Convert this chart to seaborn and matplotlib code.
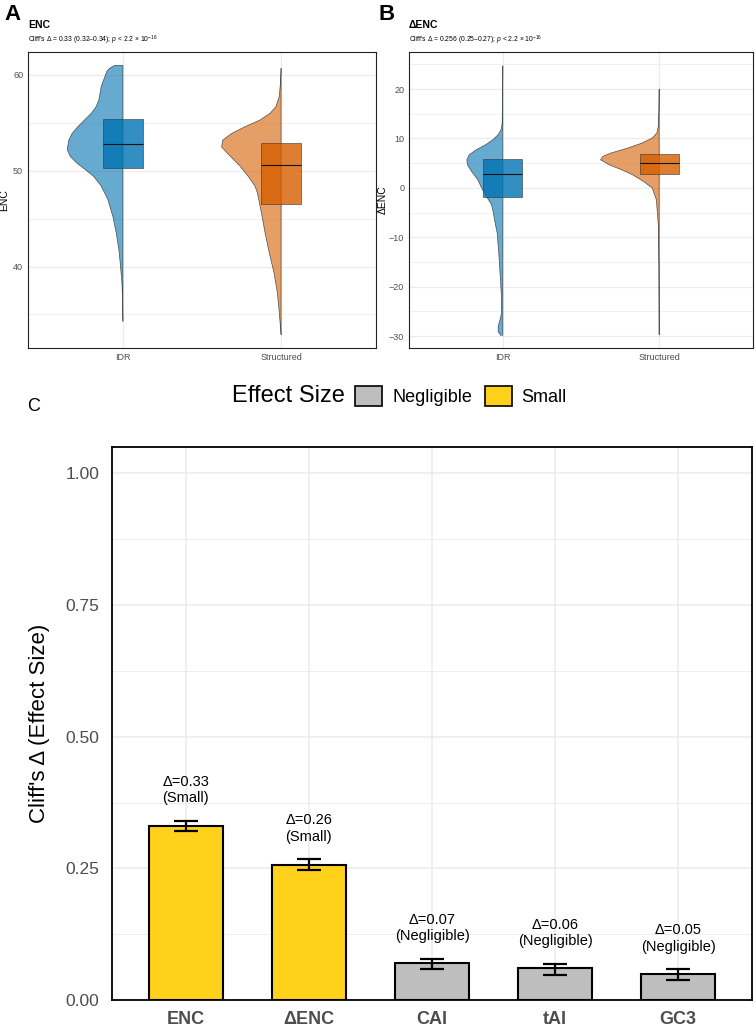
import numpy as np
import pandas as pd
import matplotlib.pyplot as plt
import seaborn as sns
from matplotlib.patches import Patch
from matplotlib.ticker import MultipleLocator, FormatStrFormatter

# ---------------- data ----------------
groups = ["IDR", "Structured"]

# panel A - ENC, half-violin outline (value, half width)
enc_idr_y = [34.3, 36.5, 38.3, 40.0, 41.7, 43.5, 45.2, 47.0, 48.4, 49.4, 50.1, 50.8, 51.5, 52.2,
             53.2, 53.9, 54.6, 55.3, 56.0, 56.7, 57.4, 58.8, 60.0, 60.4, 60.7, 61.0]
enc_idr_w = [0.0, 0.002, 0.006, 0.015, 0.025, 0.042, 0.063, 0.095, 0.137, 0.184, 0.236, 0.291, 0.333, 0.352,
             0.342, 0.321, 0.285, 0.243, 0.200, 0.169, 0.152, 0.137, 0.110, 0.101, 0.084, 0.053]
enc_str_y = [32.9, 35.1, 37.2, 39.3, 41.4, 43.5, 45.6, 47.0, 47.7, 48.4, 49.4, 50.5, 51.2, 51.9,
             52.5, 53.2, 53.9, 54.6, 55.3, 56.0, 56.7, 57.8, 59.2, 60.7]
enc_str_w = [0.0, 0.011, 0.023, 0.044, 0.074, 0.101, 0.124, 0.141, 0.150, 0.165, 0.207, 0.260, 0.302, 0.344,
             0.376, 0.369, 0.312, 0.228, 0.133, 0.070, 0.032, 0.011, 0.004, 0.0]
enc_q1 = [50.3, 46.5]
enc_med = [52.8, 50.6]
enc_q3 = [55.4, 52.9]

# panel B - delta ENC
denc_idr_y = [-29.9, -29.1, -28.0, -26.7, -25.3, -22.6, -18.6, -13.2, -9.15, -6.45, -4.76, -3.41, -2.06,
              -0.38, 1.65, 3.33, 4.68, 5.69, 6.71, 7.72, 8.73, 9.74, 10.76, 11.77, 13.1, 17.8, 24.7]
denc_idr_w = [0.012, 0.030, 0.030, 0.018, 0.008, 0.008, 0.015, 0.026, 0.036, 0.053, 0.062, 0.072, 0.098,
              0.130, 0.160, 0.200, 0.226, 0.230, 0.215, 0.170, 0.110, 0.064, 0.030, 0.011, 0.004, 0.002, 0.0]
denc_str_y = [-29.7, -15.9, -7.8, -2.4, 0.0, 1.3, 2.66, 3.67, 4.68, 5.69, 6.37, 7.04, 8.06, 9.07,
              10.08, 11.1, 12.4, 15.8, 20.0]
denc_str_w = [0.0, 0.002, 0.005, 0.018, 0.045, 0.10, 0.17, 0.24, 0.32, 0.375, 0.36, 0.31, 0.20, 0.11,
              0.045, 0.015, 0.006, 0.002, 0.0]
denc_q1 = [-1.9, 2.8]
denc_med = [2.8, 5.05]
denc_q3 = [5.9, 6.9]

# panel C - Cliff's delta
metrics = ["ENC", "ΔENC", "CAI", "tAI", "GC3"]
cliffs_delta = [0.33, 0.256, 0.07, 0.06, 0.05]
ci_low = [0.32, 0.247, 0.058, 0.047, 0.038]
ci_high = [0.34, 0.267, 0.078, 0.068, 0.058]
effect = ["Small", "Small", "Negligible", "Negligible", "Negligible"]

df = pd.DataFrame({"metric": metrics, "delta": cliffs_delta, "lo": ci_low,
                   "hi": ci_high, "effect": effect})

# ---------------- style ----------------
sns.set_theme(style="white")
plt.rcParams['font.family'] = ['Liberation Sans', 'DejaVu Sans']
plt.rcParams['mathtext.fontset'] = 'custom'
plt.rcParams['mathtext.rm'] = 'Liberation Sans'
plt.rcParams['mathtext.it'] = 'Liberation Sans:italic'
plt.rcParams['text.color'] = 'black'
plt.rcParams['axes.labelcolor'] = 'black'

grp_cols = ["#0072B2", "#D55E00"]
eff_cols = {"Negligible": "#BEBEBE", "Small": "#FFD11A"}
grid_col = "#EBEBEB"
tick_col = "#4D4D4D"

fig = plt.figure(figsize=(7.55, 10.28), dpi=100)
W, H = 755, 1028


def px_axes(l, t, r, b):
    return fig.add_axes([l / W, 1 - b / H, (r - l) / W, (b - t) / H])


def half_violin(ax, pos, y, w, col):
    y = np.asarray(y)
    w = np.asarray(w)
    ax.fill_betweenx(y, pos - w, pos, facecolor=col, alpha=0.6, edgecolor='none', zorder=2)
    xs = np.concatenate([pos - w, [pos, pos]])
    ys = np.concatenate([y, [y[-1], y[0]]])
    ax.plot(xs, ys, color='#2b2b2b', lw=0.5, alpha=0.8, zorder=3)


def dist_panel(ax, profiles, q1, med, q3, ylim, major, minor, ylab, lab_x):
    for i, (yy, ww) in enumerate(profiles):
        half_violin(ax, i, yy, ww, grp_cols[i])
    stats = [{'q1': q1[i], 'med': med[i], 'q3': q3[i], 'whislo': q1[i], 'whishi': q3[i],
              'fliers': []} for i in range(2)]
    bp = ax.bxp(stats, positions=[0, 1], widths=0.25, patch_artist=True, showcaps=False,
                showfliers=False, medianprops=dict(color='#111111', lw=0.8),
                whiskerprops=dict(lw=0), manage_ticks=False)
    for patch, c in zip(bp['boxes'], grp_cols):
        patch.set_facecolor(c)
        patch.set_alpha(0.8)
        patch.set_edgecolor('#333333')
        patch.set_linewidth(0.5)
        patch.set_zorder(4)
    for m in bp['medians']:
        m.set_zorder(5)
    ax.set_xlim(-0.6, 1.6)
    ax.set_ylim(*ylim)
    ax.set_xticks([0, 1])
    ax.set_xticklabels(groups)
    ax.yaxis.set_major_locator(MultipleLocator(major))
    ax.yaxis.set_minor_locator(MultipleLocator(minor))
    ax.grid(True, which='major', color=grid_col, lw=0.8)
    ax.grid(True, which='minor', axis='y', color=grid_col, lw=0.5)
    ax.set_axisbelow(True)
    ax.tick_params(axis='both', length=0, labelsize=6.5, labelcolor=tick_col, pad=3.5)
    for s in ax.spines.values():
        s.set_color('#222222')
        s.set_linewidth(0.8)
    ax.set_ylabel(ylab, fontsize=7.5)
    ax.yaxis.set_label_coords(lab_x, 0.5)
    ax.set_xlabel('')


# ---- panel A ----
axA = px_axes(28, 52, 376, 348)
dist_panel(axA, [(enc_idr_y, enc_idr_w), (enc_str_y, enc_str_w)], enc_q1, enc_med, enc_q3,
           (31.5, 62.4), 10, 5, "ENC", -0.055)

# ---- panel B ----
axB = px_axes(409, 52, 753, 348)
dist_panel(axB, [(denc_idr_y, denc_idr_w), (denc_str_y, denc_str_w)], denc_q1, denc_med, denc_q3,
           (-32.4, 27.5), 10, 5, "ΔENC", -0.062)

fig.text(4 / W, 1 - 14 / H, "A", fontsize=16, fontweight='bold', va='center', ha='left')
fig.text(379 / W, 1 - 14 / H, "B", fontsize=16, fontweight='bold', va='center', ha='left')
fig.text(28 / W, 1 - 25.5 / H, "ENC", fontsize=7.5, fontweight='bold', va='center')
fig.text(409 / W, 1 - 25.5 / H, "ΔENC", fontsize=7.5, fontweight='bold', va='center')
fig.text(28 / W, 1 - 40 / H, r"Cliff's Δ = 0.33 (0.32–0.34); $p$ < 2.2 × 10$^{-16}$",
         fontsize=4.9, va='center')
fig.text(409 / W, 1 - 40 / H, r"Cliff's Δ = 0.256 (0.25–0.27); $p$ < 2.2 × 10$^{-16}$",
         fontsize=4.9, va='center')

# ---- panel C ----
axC = px_axes(112, 447, 752, 1000)
sns.barplot(data=df, x="metric", y="delta", hue="effect", order=metrics,
            hue_order=["Negligible", "Small"], palette=eff_cols, saturation=1, dodge=False, width=0.6,
            edgecolor='black', linewidth=1.5, legend=False, ax=axC, zorder=3)
xpos = np.arange(len(metrics))
axC.errorbar(xpos, df["delta"], yerr=[df["delta"] - df["lo"], df["hi"] - df["delta"]],
             fmt='none', ecolor='black', elinewidth=1.6, capsize=8.5, capthick=1.6, zorder=4)
for i, row in df.iterrows():
    axC.text(i, row["hi"] + 0.03, f"Δ={row['delta']:.2f}\n({row['effect']})",
             ha='center', va='bottom', fontsize=10.5, linespacing=1.2, color='black', zorder=5)

axC.set_xlim(-0.6, 4.6)
axC.set_ylim(0, 1.05)
axC.yaxis.set_major_locator(MultipleLocator(0.25))
axC.yaxis.set_minor_locator(MultipleLocator(0.125))
axC.yaxis.set_major_formatter(FormatStrFormatter('%.2f'))
axC.grid(True, which='major', color=grid_col, lw=1.1)
axC.grid(True, which='minor', axis='y', color=grid_col, lw=0.6)
axC.set_axisbelow(True)
axC.tick_params(axis='y', length=0, labelsize=12.5, labelcolor=tick_col, pad=9)
axC.tick_params(axis='x', length=0, labelsize=13, labelcolor=tick_col, pad=8)
for lbl in axC.get_xticklabels():
    lbl.set_fontweight('bold')
for s in axC.spines.values():
    s.set_color('black')
    s.set_linewidth(1.3)
axC.set_xlabel('')
axC.set_ylabel("Cliff's Δ (Effect Size)", fontsize=16)
axC.yaxis.set_label_coords(-0.097, 0.5)

fig.text(27 / W, 1 - 407 / H, "C", fontsize=13, va='center', ha='left')
fig.text(345 / W, 1 - 396 / H, "Effect Size", fontsize=17, va='center', ha='right')
handles = [Patch(facecolor=eff_cols[k], edgecolor='black', linewidth=1.2) for k in ["Negligible", "Small"]]
fig.legend(handles, ["Negligible", "Small"], loc='center left', bbox_to_anchor=(355 / W, 1 - 396 / H),
           ncol=2, frameon=False, fontsize=13, handlelength=1.5, handleheight=1.4,
           handletextpad=0.55, columnspacing=0.7, borderpad=0, borderaxespad=0)

fig.savefig("out.png", dpi=100)
